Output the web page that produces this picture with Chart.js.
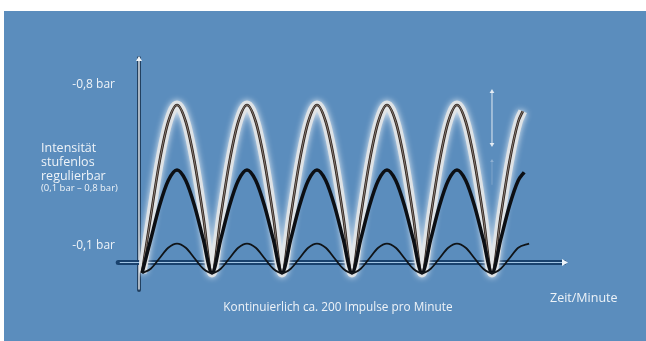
<!DOCTYPE html>
<html>
<head>
<meta charset="utf-8">
<script src="https://cdn.jsdelivr.net/npm/chart.js@4.4.1/dist/chart.umd.min.js"></script>
<style>
html,body{margin:0;padding:0;background:#fff;}
#wrap{width:646px;height:341px;position:relative;}
</style>
</head>
<body>
<div id="wrap"><canvas id="c" width="646" height="341"></canvas></div>
<script>
// ---- data (time in pulse periods, intensity in chart units) ----
const timeBig = [0,0.125,0.25,0.375,0.5,0.625,0.75,0.875,1,1.125,1.25,1.375,1.5,1.625,1.75,1.875,2,2.125,2.25,2.375,2.5,2.625,2.75,2.875,3,3.125,3.25,3.375,3.5,3.625,3.75,3.875,4,4.125,4.25,4.375,4.5,4.625,4.75,4.875,5,5.125,5.25,5.375,5.44];
const bigPulse = [0,0.27,0.53,0.72,0.8,0.72,0.53,0.27,0,0.27,0.53,0.72,0.8,0.72,0.53,0.27,0,0.27,0.53,0.72,0.8,0.72,0.53,0.27,0,0.27,0.53,0.72,0.8,0.72,0.53,0.27,0,0.27,0.53,0.72,0.8,0.72,0.53,0.27,0,0.27,0.53,0.72,0.77];
const timeMid = [0,0.125,0.25,0.375,0.5,0.625,0.75,0.875,1,1.125,1.25,1.375,1.5,1.625,1.75,1.875,2,2.125,2.25,2.375,2.5,2.625,2.75,2.875,3,3.125,3.25,3.375,3.5,3.625,3.75,3.875,4,4.125,4.25,4.375,4.5,4.625,4.75,4.875,5,5.125,5.25,5.375,5.46];
const midPulse = [0,0.16,0.32,0.44,0.49,0.44,0.32,0.16,0,0.16,0.32,0.44,0.49,0.44,0.32,0.16,0,0.16,0.32,0.44,0.49,0.44,0.32,0.16,0,0.16,0.32,0.44,0.49,0.44,0.32,0.16,0,0.16,0.32,0.44,0.49,0.44,0.32,0.16,0,0.16,0.32,0.44,0.48];
const timeSmall = [0,0.125,0.25,0.375,0.5,0.625,0.75,0.875,1,1.125,1.25,1.375,1.5,1.625,1.75,1.875,2,2.125,2.25,2.375,2.5,2.625,2.75,2.875,3,3.125,3.25,3.375,3.5,3.625,3.75,3.875,4,4.125,4.25,4.375,4.5,4.625,4.75,4.875,5,5.125,5.25,5.375,5.53];
const smallPulse = [0,0.02,0.07,0.12,0.14,0.12,0.07,0.02,0,0.02,0.07,0.12,0.14,0.12,0.07,0.02,0,0.02,0.07,0.12,0.14,0.12,0.07,0.02,0,0.02,0.07,0.12,0.14,0.12,0.07,0.02,0,0.02,0.07,0.12,0.14,0.12,0.07,0.02,0,0.02,0.07,0.12,0.14];
const tickValues = [0.895, 0.129];
const tickLabels = ['-0,8 bar', '-0,1 bar'];
const sideLabel = ['Intensität', 'stufenlos', 'regulierbar'];
const sideNote = '(0,1 bar – 0,8 bar)';
const bottomLabel = 'Kontinuierlich ca. 200 Impulse pro Minute';
const xAxisLabel = 'Zeit/Minute';

const pts = (xs, ys) => xs.map((x, i) => ({x, y: ys[i]}));
const FONT = '"Open Sans", "DejaVu Sans", sans-serif';
const TXT = '#eef3f8';

function arrowHead(ctx, x, y, dir, size, color) {
  ctx.save();
  ctx.fillStyle = color;
  ctx.beginPath();
  if (dir === 'up') { ctx.moveTo(x, y); ctx.lineTo(x - size*0.6, y + size); ctx.lineTo(x + size*0.6, y + size); }
  else if (dir === 'down') { ctx.moveTo(x, y); ctx.lineTo(x - size*0.6, y - size); ctx.lineTo(x + size*0.6, y - size); }
  else { ctx.moveTo(x, y); ctx.lineTo(x - size, y - size*0.6); ctx.lineTo(x - size, y + size*0.6); }
  ctx.closePath(); ctx.fill(); ctx.restore();
}

const decor = {
  id: 'decor',
  beforeDraw(chart) {
    const ctx = chart.ctx;
    ctx.save();
    ctx.fillStyle = '#ffffff';
    ctx.fillRect(0, 0, chart.width, chart.height);
    ctx.fillStyle = '#5b8dbd';
    ctx.fillRect(4, 11, chart.width - 4, chart.height - 11);
    ctx.restore();
  },
  beforeDatasetsDraw(chart) {
    const ctx = chart.ctx, a = chart.chartArea, xs = chart.scales.x, ys = chart.scales.y;
    ctx.save();
    const vx = a.left;
    ctx.lineCap = 'round';
    ctx.strokeStyle = 'rgba(25,50,80,0.85)'; ctx.lineWidth = 4;
    ctx.beginPath(); ctx.moveTo(vx, a.bottom); ctx.lineTo(vx, a.top + 2); ctx.stroke();
    ctx.strokeStyle = '#f4f6f8'; ctx.lineWidth = 1.3;
    ctx.beginPath(); ctx.moveTo(vx, a.bottom - 1); ctx.lineTo(vx, a.top + 3); ctx.stroke();
    arrowHead(ctx, vx, a.top, 'up', 5, '#f4f6f8');
    const hy = ys.getPixelForValue(0.05);
    const x0 = xs.getPixelForValue(-0.34);
    ctx.strokeStyle = 'rgba(22,62,105,0.95)'; ctx.lineWidth = 5;
    ctx.beginPath(); ctx.moveTo(x0, hy); ctx.lineTo(a.right - 4, hy); ctx.stroke();
    ctx.strokeStyle = '#9fc3e3'; ctx.lineWidth = 1.2;
    ctx.beginPath(); ctx.moveTo(x0 + 2, hy); ctx.lineTo(a.right - 5, hy); ctx.stroke();
    arrowHead(ctx, a.right, hy, 'right', 6, '#eef4fa');
    ctx.restore();
  },
  beforeDatasetDraw(chart, args) {
    const ds = chart.data.datasets[args.index];
    if (ds.glow) {
      chart.ctx.save();
      chart.ctx.shadowColor = 'rgba(255,255,255,0.95)';
      chart.ctx.shadowBlur = 6;
    }
  },
  afterDatasetDraw(chart, args) {
    const ds = chart.data.datasets[args.index];
    if (ds.glow) chart.ctx.restore();
  },
  afterDraw(chart) {
    const ctx = chart.ctx, xs = chart.scales.x, ys = chart.scales.y;
    ctx.save();
    const ax = xs.getPixelForValue(5.0);
    const t1 = ys.getPixelForValue(0.876), b1 = ys.getPixelForValue(0.60);
    ctx.strokeStyle = 'rgba(240,244,248,0.9)'; ctx.lineWidth = 1;
    ctx.beginPath(); ctx.moveTo(ax, t1 + 3); ctx.lineTo(ax, b1 - 3); ctx.stroke();
    arrowHead(ctx, ax, t1, 'up', 4, 'rgba(240,244,248,0.9)');
    arrowHead(ctx, ax, b1, 'down', 4, 'rgba(240,244,248,0.9)');
    const t2 = ys.getPixelForValue(0.543), b2 = ys.getPixelForValue(0.42);
    ctx.strokeStyle = 'rgba(240,244,248,0.25)';
    ctx.beginPath(); ctx.moveTo(ax, t2 + 3); ctx.lineTo(ax, b2); ctx.stroke();
    arrowHead(ctx, ax, t2, 'up', 3, 'rgba(240,244,248,0.35)');
    ctx.fillStyle = TXT; ctx.textAlign = 'left'; ctx.textBaseline = 'middle';
    ctx.font = '12.5px ' + FONT;
    const ly = [148, 162, 176];
    sideLabel.forEach((s, i) => ctx.fillText(s, 41, ly[i]));
    ctx.font = '9.5px ' + FONT;
    ctx.fillText(sideNote, 41, 188);
    ctx.font = '11.8px ' + FONT;
    ctx.textAlign = 'center';
    ctx.fillText(bottomLabel, 338, 308);
    ctx.font = '12.5px ' + FONT;
    ctx.textAlign = 'left';
    ctx.fillText(xAxisLabel, 550, 298);
    ctx.restore();
  }
};

// Chart.js paints dataset 0 last (on top)
new Chart(document.getElementById('c'), {
  type: 'line',
  data: {
    datasets: [
      {data: pts(timeSmall, smallPulse), borderColor: '#101418', borderWidth: 1.8, pointRadius: 0, cubicInterpolationMode: 'monotone', fill: false},
      {data: pts(timeMid, midPulse), borderColor: '#0c0f14', borderWidth: 3.5, pointRadius: 0, cubicInterpolationMode: 'monotone', fill: false},
      {data: pts(timeBig, bigPulse), borderColor: 'rgba(215,205,195,0.9)', borderWidth: 0.6, pointRadius: 0, cubicInterpolationMode: 'monotone', fill: false},
      {data: pts(timeBig, bigPulse), borderColor: '#2a1e18', borderWidth: 2.6, pointRadius: 0, cubicInterpolationMode: 'monotone', fill: false},
      {data: pts(timeBig, bigPulse), borderColor: 'rgba(226,228,230,0.9)', borderWidth: 9, pointRadius: 0, cubicInterpolationMode: 'monotone', fill: false, glow: true}
    ]
  },
  options: {
    responsive: false,
    animation: false,
    events: [],
    layout: {padding: {left: 4, top: 56, right: 78, bottom: 51}},
    plugins: {legend: {display: false}, tooltip: {enabled: false}},
    scales: {
      x: {type: 'linear', min: -0.043, max: 6.086, display: false},
      y: {
        type: 'linear', min: -0.081, max: 1.033,
        grid: {display: false, drawTicks: false}, border: {display: false},
        afterFit(axis) { axis.width = 135; },
        afterBuildTicks(axis) { axis.ticks = tickValues.map(v => ({value: v})); },
        ticks: {
          padding: 24, color: TXT, font: {family: FONT, size: 12},
          callback(v) { const i = tickValues.indexOf(v); return i >= 0 ? tickLabels[i] : ''; }
        }
      }
    }
  },
  plugins: [decor]
});
</script>
</body>
</html>
